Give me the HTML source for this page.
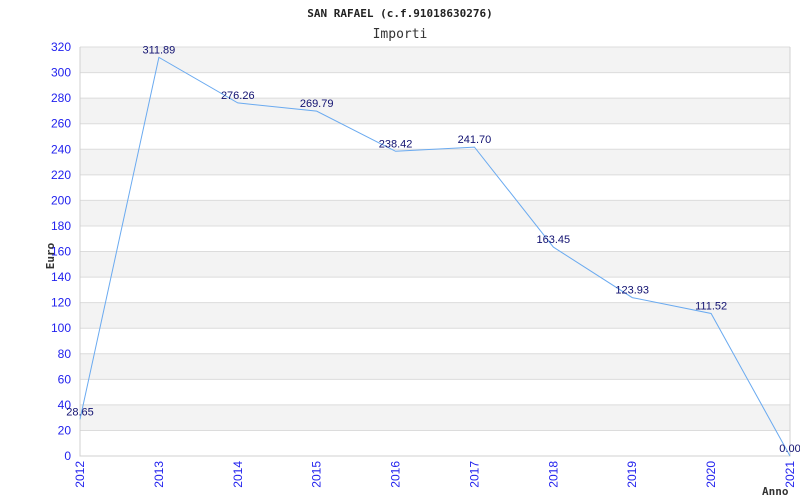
<!DOCTYPE html>
<html><head><meta charset="utf-8"><style>
body{margin:0;background:#fff;}
svg{display:block;}
</style></head><body>
<svg id="chart" width="800" height="500" xmlns="http://www.w3.org/2000/svg">
<text x="400" y="17" text-anchor="middle" font-family="DejaVu Sans Mono, Liberation Mono, monospace" font-size="11" font-weight="bold" fill="#222">SAN RAFAEL (c.f.91018630276)</text>
<text x="400" y="38" text-anchor="middle" font-family="DejaVu Sans Mono, Liberation Mono, monospace" font-size="13" fill="#333">Importi</text>
<text transform="translate(54,256) rotate(-90)" text-anchor="middle" font-family="DejaVu Sans Mono, Liberation Mono, monospace" font-size="11" font-weight="bold" fill="#333">Euro</text>
<text x="762" y="495" font-family="DejaVu Sans Mono, Liberation Mono, monospace" font-size="11" font-weight="bold" fill="#333">Anno</text>
<g id="plot"></g>
</svg>
<script>
const years = ['2012','2013','2014','2015','2016','2017','2018','2019','2020','2021'];
const values = [28.65,311.89,276.26,269.79,238.42,241.70,163.45,123.93,111.52,0.00];
const yTicks = [0,20,40,60,80,100,120,140,160,180,200,220,240,260,280,300,320];
const L=80,R=790,T=47,B=456,YMAX=320;
const NS='http://www.w3.org/2000/svg';
const g=document.getElementById('plot');
function x(i){return L+i*(R-L)/(years.length-1);}
function y(v){return B-v*(B-T)/YMAX;}
function mk(t,a){const e=document.createElementNS(NS,t);for(const k in a)e.setAttribute(k,a[k]);g.appendChild(e);return e;}
for(let i=0;i<yTicks.length-1;i++){
  const r=mk('rect',{x:L,y:y(yTicks[i+1]),width:R-L,height:y(yTicks[i])-y(yTicks[i+1]),fill:(i%2===1)?'#f3f3f3':'#ffffff'});
  
  
}
yTicks.forEach(v=>{
  const l=mk('line',{x1:L,x2:R,y1:y(v),y2:y(v),stroke:'#dcdcdc','stroke-width':1});
  
  
  const t=mk('text',{x:L-9,y:y(v)+4,'text-anchor':'end','font-family':'Liberation Sans, sans-serif','font-size':12,fill:'#2222ee'});
  t.textContent=v;
  
  
});
const ax=mk('path',{d:`M${L},${T}V${B}H${R}V${T}`,fill:'none',stroke:'#d0d0d0','stroke-width':1});


years.forEach((yr,i)=>{
  const t=mk('text',{transform:`translate(${x(i)+4},${B+5}) rotate(-90)`,'text-anchor':'end','font-family':'Liberation Sans, sans-serif','font-size':12,fill:'#2222ee'});
  t.textContent=yr;
  
  
});
const line=mk('polyline',{points:values.map((v,i)=>x(i)+','+y(v)).join(' '),fill:'none',stroke:'#6aaaf0','stroke-width':1});


values.forEach((v,i)=>{
  const t=mk('text',{x:x(i),y:y(v)-4,'text-anchor':'middle','font-family':'Liberation Sans, sans-serif','font-size':11,fill:'#101070'});
  t.textContent=v.toFixed(2);
  
  
});
</script>
</body></html>
